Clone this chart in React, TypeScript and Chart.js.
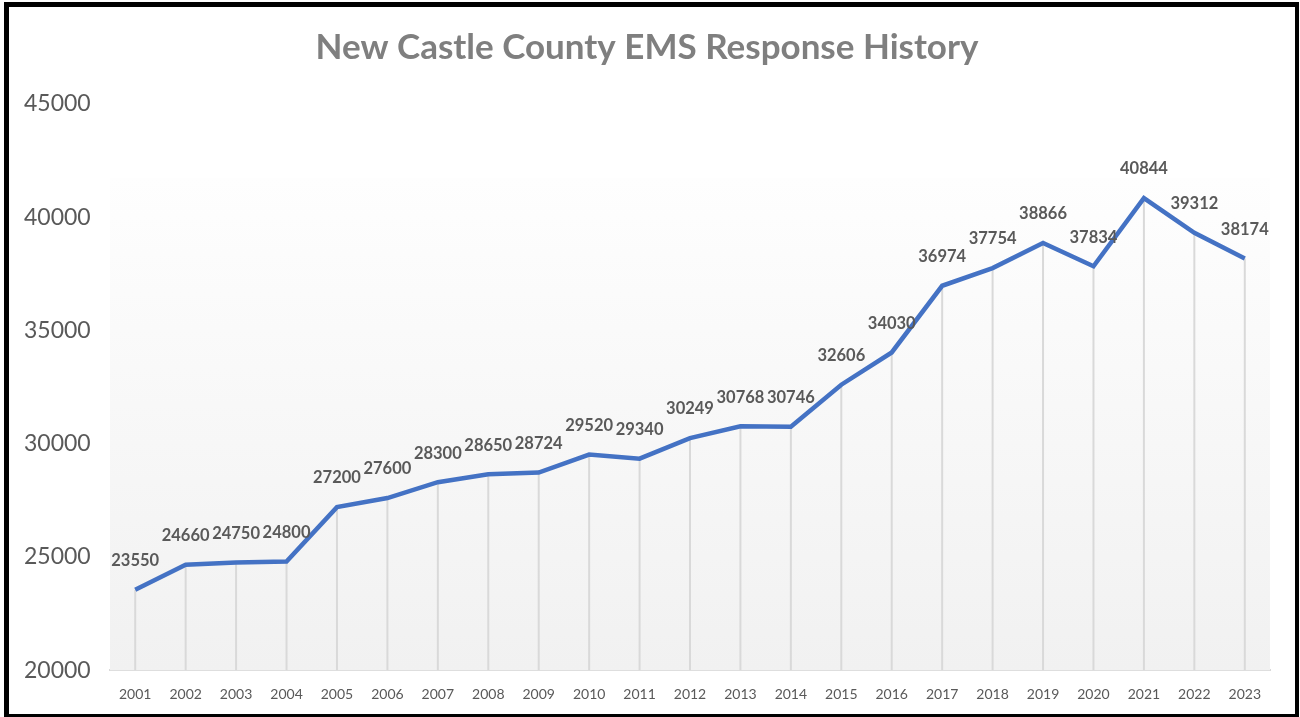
import React, { useEffect, useRef } from "react";
import { Chart, registerables } from "chart.js";

Chart.register(...registerables);

const years = ["2001","2002","2003","2004","2005","2006","2007","2008","2009","2010","2011","2012","2013","2014","2015","2016","2017","2018","2019","2020","2021","2022","2023"];
const responses = [23550,24660,24750,24800,27200,27600,28300,28650,28724,29520,29340,30249,30768,30746,32606,34030,36974,37754,38866,37834,40844,39312,38174];
const yTicks = [20000, 25000, 30000, 35000, 40000, 45000];
const chartTitle = "New Castle County EMS Response History";

const FONT = "Lato, 'Open Sans', sans-serif";

const decorPlugin = {
  id: "decor",
  beforeDatasetsDraw(chart: any) {
    const { ctx, chartArea } = chart;
    const top = chartArea.top + (chartArea.bottom - chartArea.top) * 0.13;
    ctx.save();
    const g = ctx.createLinearGradient(0, top, 0, chartArea.bottom);
    g.addColorStop(0, "#fefefe");
    g.addColorStop(1, "#f1f1f1");
    ctx.fillStyle = g;
    ctx.fillRect(chartArea.left, top, chartArea.right - chartArea.left, chartArea.bottom - top);
    const meta = chart.getDatasetMeta(0);
    ctx.strokeStyle = "#d9d9d9";
    ctx.lineWidth = 2;
    meta.data.forEach((pt: any) => {
      ctx.beginPath();
      ctx.moveTo(pt.x, pt.y);
      ctx.lineTo(pt.x, chartArea.bottom);
      ctx.stroke();
    });
    ctx.restore();
  },
  afterDatasetsDraw(chart: any) {
    const { ctx } = chart;
    const meta = chart.getDatasetMeta(0);
    ctx.save();
    ctx.font = `bold 16.5px ${FONT}`;
    ctx.fillStyle = "#595959";
    ctx.textAlign = "center";
    ctx.textBaseline = "middle";
    meta.data.forEach((pt: any, i: number) => {
      ctx.fillText(String(responses[i]), pt.x, pt.y - 29);
    });
    ctx.restore();
  },
  afterDraw(chart: any) {
    const { ctx } = chart;
    ctx.save();
    ctx.fillStyle = "#000";
    ctx.fillRect(4, 2, 5, 715);
    ctx.fillRect(4, 2, 1295, 5);
    ctx.fillRect(1295, 2, 4, 715);
    ctx.fillRect(4, 714, 1295, 3);
    ctx.restore();
  },
};

export default function App() {
  const ref = useRef<HTMLCanvasElement>(null);
  useEffect(() => {
    document.body.style.margin = "0";
    const chart = new Chart(ref.current!, {
      type: "line",
      data: {
        labels: years,
        datasets: [
          {
            data: responses,
            borderColor: "#4472C4",
            borderWidth: 4.5,
            pointRadius: 0,
            tension: 0,
            fill: false,
          },
        ],
      },
      options: {
        responsive: false,
        animation: false,
        layout: { padding: { left: 24, right: 30, top: 0, bottom: 6 } },
        plugins: {
          legend: { display: false },
          tooltip: { enabled: false },
          title: {
            display: true,
            text: chartTitle,
            color: "#7f7f7f",
            font: { family: FONT, size: 35, weight: "bold" },
            padding: { top: 27, bottom: 35 },
          },
        },
        scales: {
          x: {
            offset: true,
            grid: { display: false },
            border: { display: true, color: "#d9d9d9", width: 2 },
            ticks: { color: "#595959", font: { family: FONT, size: 14 }, padding: 8, maxRotation: 0, autoSkip: false },
          },
          y: {
            min: yTicks[0],
            max: yTicks[yTicks.length - 1],
            afterBuildTicks: (axis: any) => {
              axis.ticks = yTicks.map((v) => ({ value: v }));
            },
            afterFit: (axis: any) => {
              axis.width = 86;
            },
            grid: { display: false },
            border: { display: false },
            ticks: {
              color: "#595959",
              font: { family: FONT, size: 23, lineHeight: 0.3 },
              crossAlign: "far",
              padding: 0,
              callback: (v: any) => String(v),
            },
          },
        },
      },
      plugins: [decorPlugin],
    });
    return () => chart.destroy();
  }, []);
  return (
    <div style={{ width: 1300, height: 717, background: "#fff" }}>
      <canvas ref={ref} width={1300} height={717} style={{ display: "block" }} />
    </div>
  );
}
